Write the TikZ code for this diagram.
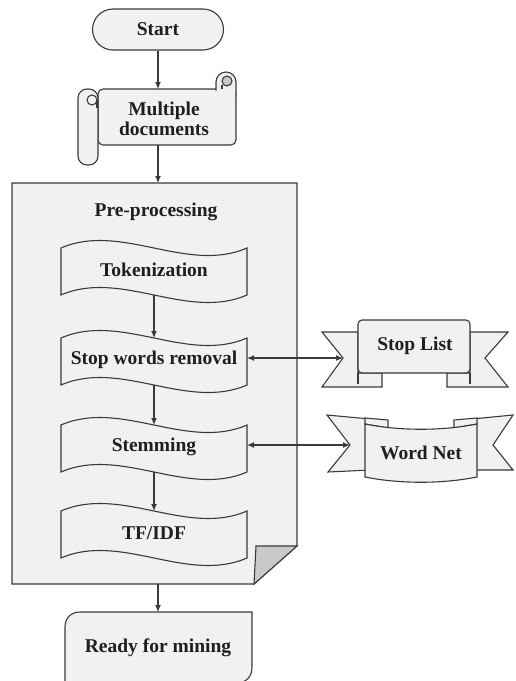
\documentclass[tikz,border=0pt]{standalone}
\usepackage{fontspec}
\setmainfont{Liberation Serif}
\usetikzlibrary{arrows.meta}
\definecolor{shapefill}{RGB}{241,241,241}
\definecolor{foldfill}{RGB}{201,201,201}
\definecolor{edgegray}{RGB}{58,58,58}
\tikzset{
  lines/.style={draw=edgegray, line width=1.1pt},
  outline/.style={lines, fill=shapefill},
  lbl/.style={font=\fontsize{19.5}{20}\selectfont\bfseries, text=black!88, align=center, inner sep=0pt},
  arr/.style={lines, -{Latex[length=7pt,width=6pt]}},
  dblarr/.style={lines, {Latex[length=7pt,width=6pt]}-{Latex[length=7pt,width=6pt]}},
  tape/.pic={
    \filldraw [outline] (-93,-22) .. controls (-33,-48) and (33,4) .. (93,-22)
      -- (93,25) .. controls (33,51) and (-33,-1) .. (-93,25) -- cycle;
    \node [lbl] (-txt) at (0,0) {#1};
    \coordinate (-top) at (0,-22);
    \coordinate (-bot) at (0,25);
    \coordinate (-east) at (93,-2);
  }
}
\begin{document}
\begin{tikzpicture}[x=1pt, y=-1pt]
    \useasboundingbox (0,0) rectangle (515,681);
    \coordinate (docstop) at (158,89);
    \coordinate (docsbot) at (158,145);
    \coordinate (boxtop) at (158,183);
    \coordinate (boxbot) at (158,584);
    \coordinate (readytop) at (158,612);
    \coordinate (slnotch) at (343,358);
    \coordinate (wnnotch) at (350,445);

    \node [lbl, outline, rounded corners=20.5pt, minimum width=131pt, minimum height=41pt] (start) at (158,29.5) {Start};

    \filldraw [outline, rounded corners=5] (98,89) rectangle (236,145);
    \filldraw [outline, rounded corners=10] (216,90.5) -- (216,72) -- (236,72) -- (236,96);
    \filldraw [outline, fill=foldfill] (227,81) circle (5);
    \draw [lines] (222,85) -- (222,89);
    \filldraw [outline, rounded corners=9] (78,89) rectangle (98,165);
    \filldraw [outline] (92,100) circle (5);
    \draw [lines] (97,100) -- (97,108);
    \node [lbl] (docs) at (164,119) {Multiple\\documents};

    \filldraw [outline] (12,183) -- (297,183) -- (297,546) -- (254,584) -- (12,584) -- cycle;
    \filldraw [outline, fill=foldfill] (256,546) -- (297,546) -- (254,584) -- cycle;
    \node [lbl] (prep) at (156,212) {Pre-processing};

    \pic (tok) at (154,270) {tape=Tokenization};
    \pic (stw) at (154,360) {tape=Stop words removal};
    \pic (stem) at (154,447) {tape=Stemming};
    \pic (tfidf) at (154,533) {tape=TF/IDF};

    \filldraw [outline] (358,332) -- (322,332) -- (343,358) -- (322,387) -- (382,387) -- (382,373) -- (358,373) -- cycle;
    \filldraw [outline] (470,332) -- (508,332) -- (485,358) -- (508,387) -- (447,387) -- (447,373) -- (470,373) -- cycle;
    \draw [lines] (358,373) -- (358,384);
    \draw [lines] (470,373) -- (470,384);
    \filldraw [outline, rounded corners=4] (358,320) rectangle (470,373);
    \node [lbl] (stoplist) at (415,346) {Stop List};

    \filldraw [outline] (370,419) -- (327,415) -- (350,445) -- (328,472) -- (370,470) -- cycle;
    \filldraw [outline] (472,419) -- (513,415) -- (493,445) -- (513,470) -- (472,470) -- cycle;
    \filldraw [outline] (365,418) -- (388,420) -- (388,428) -- (365,424) -- cycle;
    \filldraw [outline] (477,418) -- (454,420) -- (454,428) -- (477,424) -- cycle;
    \filldraw [outline] (365,424) .. controls (400,431) and (442,431) .. (477,424)
        -- (477,477) .. controls (442,484) and (400,484) .. (365,477) -- cycle;
    \node [lbl] (wordnet) at (421,453) {Word Net};

    \filldraw [outline] (65,683) -- (65,627) .. controls (65,618) and (71,612) .. (80,612)
        -- (252,612) -- (252,667) .. controls (252,677) and (246,683) .. (236,683) -- cycle;
    \node [lbl] (ready) at (158,648) {Ready for mining};

    \draw [arr] (start) -- (docstop);
    \draw [arr] (docsbot) -- (boxtop);
    \draw [arr] (tok-bot) -- (stw-top);
    \draw [arr] (stw-bot) -- (stem-top);
    \draw [arr] (stem-bot) -- (tfidf-top);
    \draw [dblarr] (stw-east) -- (slnotch);
    \draw [dblarr] (stem-east) -- (wnnotch);
    \draw [arr] (boxbot) -- (readytop);
\end{tikzpicture}
\end{document}
